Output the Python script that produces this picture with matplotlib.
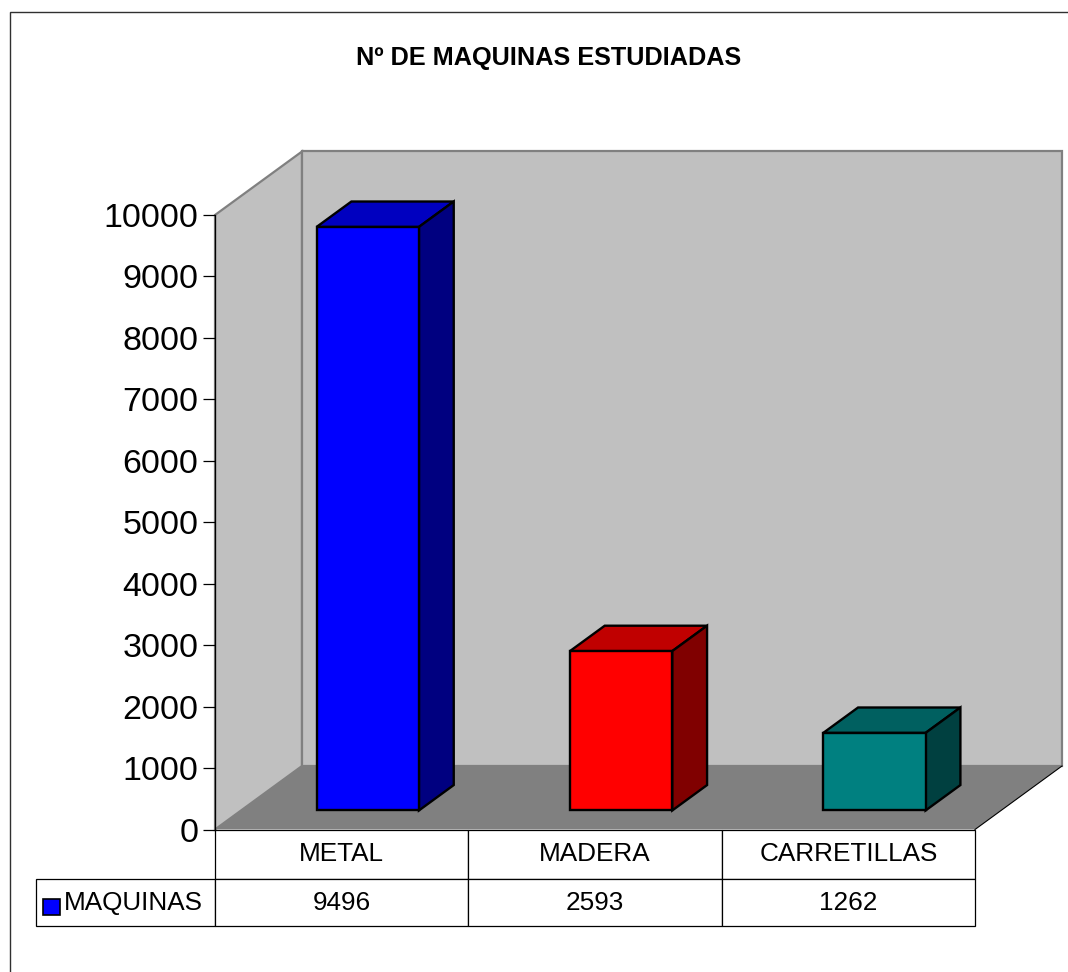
import matplotlib
matplotlib.use('Agg')
import matplotlib.pyplot as plt
from matplotlib.patches import Polygon, Rectangle

plt.rcParams['font.family'] = ['Liberation Sans', 'DejaVu Sans']

categories = ['METAL', 'MADERA', 'CARRETILLAS']
series_name = 'MAQUINAS'
values = [9496, 2593, 1262]
y_ticks = [0, 1000, 2000, 3000, 4000, 5000, 6000, 7000, 8000, 9000, 10000]
title = 'Nº DE MAQUINAS ESTUDIADAS'

front_colors = ['#0000FF', '#FF0000', '#008080']
top_colors = ['#0000C0', '#C00000', '#006060']
side_colors = ['#000080', '#800000', '#004040']

W, H = 1068, 972
# plano frontal del grafico en pixeles
L, R, T, B = 215, 975, 215, 829.5
DX_PX, DY_PX = 87, 63.5

fig = plt.figure(figsize=(W / 100, H / 100), dpi=100, facecolor='white')
ax = fig.add_axes([L / W, 1 - B / H, (R - L) / W, (B - T) / H])
ax.set_xlim(0, len(categories))
ax.set_ylim(0, 10000)
ax.patch.set_visible(False)

dx = DX_PX / (R - L) * len(categories)
dy = DY_PX / (B - T) * 10000


def proj(x, y, d):
    # proyeccion oblicua: d=0 plano frontal, d=1 pared de fondo
    return (x + dx * d, y + dy * d)


def face(points, color, edge, lw=1.7, z=2):
    ax.add_patch(Polygon(points, closed=True, facecolor=color, edgecolor=edge,
                         linewidth=lw, joinstyle='miter', clip_on=False, zorder=z))


n = len(categories)
# paredes y suelo
face([proj(0, 0, 0), proj(0, 10000, 0), proj(0, 10000, 1), proj(0, 0, 1)], '#C0C0C0', '#808080', 1.6, 1)
face([proj(0, 0, 1), proj(0, 10000, 1), proj(n, 10000, 1), proj(n, 0, 1)], '#C0C0C0', '#808080', 1.6, 1)
face([proj(0, 0, 0), proj(n, 0, 0), proj(n, 0, 1), proj(0, 0, 1)], '#808080', 'none', 0, 1.5)
ax.plot(*zip(proj(n, 0, 0), proj(n, 0, 1)), color='black', lw=0.8, clip_on=False, zorder=1.6)

# barras 3D
bar_w = 0.404
d0, d1 = 0.3, 0.7
for i, v in enumerate(values):
    x0 = i + 0.5 - bar_w / 2
    x1 = x0 + bar_w
    face([proj(x0, v, d0), proj(x1, v, d0), proj(x1, v, d1), proj(x0, v, d1)], top_colors[i], 'black')
    face([proj(x1, 0, d0), proj(x1, v, d0), proj(x1, v, d1), proj(x1, 0, d1)], side_colors[i], 'black')
    face([proj(x0, 0, d0), proj(x1, 0, d0), proj(x1, v, d0), proj(x0, v, d0)], front_colors[i], 'black', z=3)

for s in ['top', 'right', 'bottom']:
    ax.spines[s].set_visible(False)
ax.spines['left'].set_linewidth(0.9)
ax.set_xticks([])
ax.set_yticks(y_ticks)
ax.tick_params(axis='y', length=9, width=0.9, labelsize=24.5, pad=3)

# tabla de datos (el bbox de la tabla no cuenta la columna de rotulos)
table_h = (926 - B) / (B - T)
tbl = ax.table(cellText=[[str(v) for v in values]], colLabels=categories,
               cellLoc='center', bbox=[0, -table_h, 1, table_h])
tbl.add_cell(1, -1, width=(215 - 36) / (R - L), height=47 / (B - T), text=series_name, loc='right')
tbl.auto_set_font_size(False)
tbl.set_fontsize(18.8)
for (r, c), cell in tbl.get_celld().items():
    cell.set_linewidth(0.9)
    cell.set_edgecolor('black')
    if c == -1:
        cell.PAD = 0.07
    else:
        cell.set_width(1 / n)
        cell.set_height((49.5 if r == 0 else 47) / (B - T))

# cuadrito de leyenda de la tabla
ax.add_patch(Rectangle(((43 - L) / (R - L), (B - 915) / (B - T)), 17 / (R - L), 16 / (B - T),
                       transform=ax.transAxes, facecolor=front_colors[0], edgecolor='black',
                       linewidth=1.2, clip_on=False, zorder=5))

fig.text(549 / W, 1 - 58 / H, title, ha='center', va='center', fontsize=18.2, fontweight='bold')

# marco exterior
fig.add_artist(Rectangle((10 / W, -0.1), 1, 1.1 - 12 / H, transform=fig.transFigure,
                         facecolor='none', edgecolor='#303030', linewidth=1))

fig.savefig('out.png', dpi=100, facecolor='white')
